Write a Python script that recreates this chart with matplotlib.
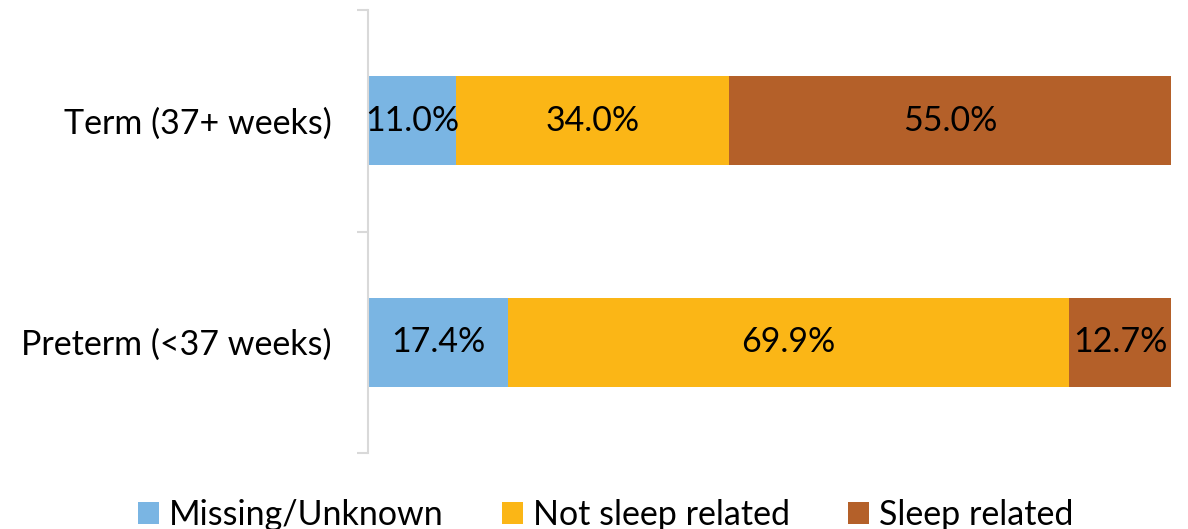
import matplotlib
matplotlib.use("Agg")
import matplotlib.pyplot as plt
from matplotlib.patches import Patch

categories = ["Term (37+ weeks)", "Preterm (<37 weeks)"]
series_names = ["Missing/Unknown", "Not sleep related", "Sleep related"]
missing = [11.0, 17.4]
not_sleep = [34.0, 69.9]
sleep = [55.0, 12.7]
colors = ["#7AB5E3", "#FBB616", "#B46029"]

plt.rcParams['font.family'] = ['Lato', 'DejaVu Sans']
FS = 24.5

fig = plt.figure(figsize=(11.88, 5.29), dpi=100)
ax = fig.add_axes([368/1188, 1-453/529, (1171-368)/1188, (453-10)/529])

ypos = list(range(len(categories)))
left = [0.0]*len(categories)
for name, vals, c in zip(series_names, [missing, not_sleep, sleep], colors):
    ax.barh(ypos, vals, left=left, height=0.40, color=c, label=name, edgecolor='none')
    for y, l, v in zip(ypos, left, vals):
        ax.text(l + v/2, y, f"{v:.1f}%", ha='center', va='center', fontsize=FS, color='black')
    left = [a+b for a, b in zip(left, vals)]

ax.set_xlim(0, 100)
ax.set_ylim(1.5, -0.5)
ax.set_xticks([])
ax.set_yticks([-0.5, 0.5, 1.5], minor=False)
ax.set_yticklabels([])
ax.set_yticks(ypos, minor=True)
ax.set_yticklabels(categories, minor=True, fontsize=FS)
ax.tick_params(axis='y', which='minor', length=0, pad=26)
ax.tick_params(axis='y', which='major', length=8, width=1.5, color='#D9D9D9')
for s in ['top', 'right', 'bottom']:
    ax.spines[s].set_visible(False)
ax.spines['left'].set_color('#D9D9D9')
ax.spines['left'].set_linewidth(1.5)

handles = [Patch(facecolor=c, edgecolor='none') for c in colors]
fig.legend(handles, series_names, loc='lower center', bbox_to_anchor=(0.51, -0.062), ncol=3,
           frameon=False, fontsize=FS, handlelength=0.62, handleheight=0.62,
           handletextpad=0.3, columnspacing=1.7)

fig.savefig("out.png", dpi=100)
